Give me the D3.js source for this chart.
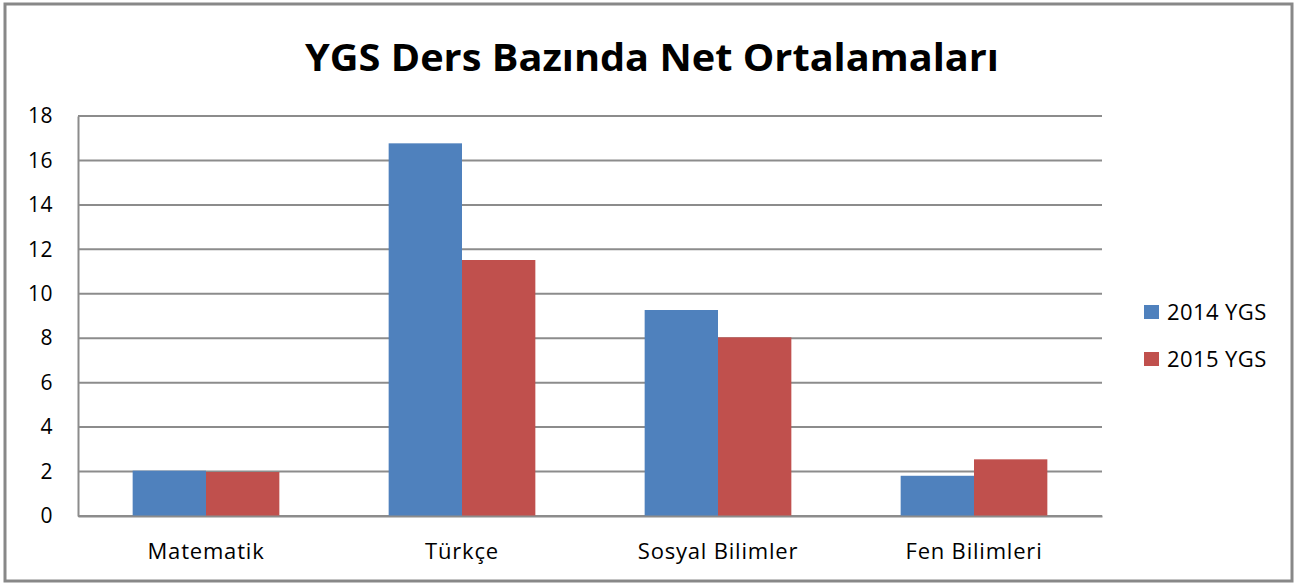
<!DOCTYPE html>
<html>
<head>
<meta charset="utf-8">
<script src="https://cdn.jsdelivr.net/npm/d3@7"></script>
<style>
  body { margin: 0; background: #fff; }
  text { font-family: "Open Sans", "DejaVu Sans", sans-serif; }
</style>
</head>
<body>
<div id="chart"></div>
<script>
// chart data
var categories = ["Matematik", "Türkçe", "Sosyal Bilimler", "Fen Bilimleri"];
var seriesNames = ["2014 YGS", "2015 YGS"];
var values2014 = [2.04, 16.77, 9.27, 1.81];
var values2015 = [1.98, 11.52, 8.04, 2.55];
var yTicks = [0, 2, 4, 6, 8, 10, 12, 14, 16, 18];
var colors = ["#4f81bd", "#c0504d"];

var W = 1299, H = 585;
var margin = {top: 116, right: 197, bottom: 69, left: 78},
    width = W - margin.left - margin.right,
    height = H - margin.top - margin.bottom;

var root = d3.select("#chart")
  .append("svg")
    .attr("width", W)
    .attr("height", H);

// outer frame
root.append("rect")
  .attr("x", 5).attr("y", 4)
  .attr("width", 1287).attr("height", 577)
  .attr("fill", "#fff")
  .attr("stroke", "#888")
  .attr("stroke-width", 3);

// title
root.append("text")
  .attr("x", 652)
  .attr("y", 71)
  .attr("text-anchor", "middle")
  .attr("font-weight", "bold")
  .attr("font-size", "37px")
  .attr("textLength", 694)
  .attr("lengthAdjust", "spacingAndGlyphs")
  .text("YGS Ders Bazında Net Ortalamaları");

var svg = root.append("g")
  .attr("transform", "translate(" + margin.left + "," + margin.top + ")");

var x0 = d3.scaleBand()
  .domain(categories)
  .range([0, width])
  .paddingInner(0)
  .paddingOuter(0);

var x1 = d3.scaleBand()
  .domain(seriesNames)
  .range([x0.bandwidth() * 0.2135, x0.bandwidth() * 0.7865]);

var y = d3.scaleLinear()
  .domain([0, 18])
  .range([height, 0]);

// gridlines
svg.selectAll(".grid")
  .data(yTicks)
  .enter()
  .append("line")
    .attr("x1", 0)
    .attr("x2", width)
    .attr("y1", function(d) { return y(d); })
    .attr("y2", function(d) { return y(d); })
    .attr("stroke", "#8c8c8c")
    .attr("stroke-width", 2);

// y axis
var yAxis = svg.append("g")
  .call(d3.axisLeft(y).tickValues(yTicks).tickSize(0).tickPadding(25));
yAxis.select(".domain").attr("stroke", "#8c8c8c").attr("stroke-width", 2);
yAxis.selectAll("text")
  .attr("font-size", "21px")
  .attr("fill", "#000")
  .style("letter-spacing", "0.5px")
  .style("font-family", "'Open Sans', sans-serif");

// bars
var rows = categories.map(function(c, i) {
  return {cat: c, vals: [values2014[i], values2015[i]]};
});

var groups = svg.selectAll(".grp")
  .data(rows)
  .enter()
  .append("g")
    .attr("transform", function(d) { return "translate(" + x0(d.cat) + ",0)"; });

groups.selectAll("rect")
  .data(function(d) { return d.vals.map(function(v, j) { return {s: seriesNames[j], v: v, j: j}; }); })
  .enter()
  .append("rect")
    .attr("x", function(d) { return x1(d.s); })
    .attr("y", function(d) { return y(d.v); })
    .attr("width", x1.bandwidth())
    .attr("height", function(d) { return height - y(d.v); })
    .attr("fill", function(d) { return colors[d.j]; });

// x axis
var xAxis = svg.append("g")
  .attr("transform", "translate(0," + height + ")")
  .call(d3.axisBottom(x0).tickSize(0).tickPadding(27));
xAxis.select(".domain").attr("stroke", "#8c8c8c").attr("stroke-width", 2);
xAxis.selectAll("text")
  .attr("font-size", "22px")
  .attr("fill", "#000")
  .style("letter-spacing", "0.8px")
  .style("font-family", "'Open Sans', sans-serif");

// legend
var legend = root.append("g")
  .attr("transform", "translate(1144,305)");
var li = legend.selectAll("g")
  .data(seriesNames)
  .enter()
  .append("g")
    .attr("transform", function(d, i) { return "translate(0," + (i * 47) + ")"; });
li.append("rect")
  .attr("width", 15).attr("height", 14)
  .attr("fill", function(d, i) { return colors[i]; });
li.append("text")
  .attr("x", 23)
  .attr("y", 15)
  .attr("font-size", "22px")
  .attr("fill", "#000")
  .style("letter-spacing", "0.4px")
  .text(function(d) { return d; });
</script>
</body>
</html>
